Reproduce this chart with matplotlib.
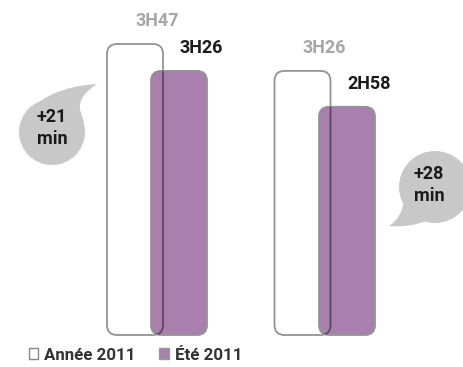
import matplotlib
matplotlib.use('Agg')
import matplotlib.pyplot as plt
from matplotlib.patches import FancyBboxPatch, Ellipse, PathPatch, Patch
from matplotlib.path import Path

# Data (minutes per day)
groups = ['Groupe 1', 'Groupe 2']
annee_2011 = [227, 206]      # 3H47, 3H26
ete_2011 = [206, 178]        # 3H26, 2H58
labels_annee = ['3H47', '3H26']
labels_ete = ['3H26', '2H58']
diffs = ['+21\nmin', '+28\nmin']

plt.rcParams['font.family'] = ['Roboto', 'DejaVu Sans']

W, H = 463, 367
fig = plt.figure(figsize=(W / 100, H / 100), dpi=100)
ax = fig.add_axes([0, 0, 1, 1])
px_per_min = 1.282
base_px = 335
ax.set_xlim(0, W)
ax.set_ylim(-(H - base_px) / px_per_min, base_px / px_per_min)
ax.axis('off')

purple = '#a97fad'
edge_grey = '#939393'
bar_w = 56
centers_annee = [135, 302.5]
centers_ete = [179, 347]
aspect = 1 / px_per_min
label_gap = 14 / px_per_min

for i in range(len(groups)):
    outline = FancyBboxPatch((centers_annee[i] - bar_w / 2, 0), bar_w, annee_2011[i],
                             boxstyle='round,pad=0,rounding_size=10',
                             mutation_aspect=aspect, facecolor='white',
                             edgecolor=edge_grey, lw=1.3, zorder=2)
    ax.add_patch(outline)
    filled = FancyBboxPatch((centers_ete[i] - bar_w / 2, 0), bar_w, ete_2011[i],
                            boxstyle='round,pad=0,rounding_size=10',
                            mutation_aspect=aspect, facecolor=purple,
                            edgecolor=edge_grey, lw=1.3, zorder=3)
    ax.add_patch(filled)
    # outline seen through the purple bar
    through = FancyBboxPatch((centers_annee[i] - bar_w / 2, 0), bar_w, annee_2011[i],
                             boxstyle='round,pad=0,rounding_size=10',
                             mutation_aspect=aspect, facecolor='none',
                             edgecolor='#5c4760', lw=1.3, zorder=4)
    ax.add_patch(through)
    through.set_clip_path(filled)

    ax.text(centers_annee[i] + 22, annee_2011[i] + label_gap, labels_annee[i], ha='center',
            va='bottom', fontsize=13, fontweight='bold', color='#a6a6a6')
    ax.text(centers_ete[i] + 22, ete_2011[i] + label_gap, labels_ete[i], ha='center',
            va='bottom', fontsize=13, fontweight='bold', color='#1a1a1a')

# Speech bubbles, in pixel coordinates
deco = fig.add_axes([0, 0, 1, 1], zorder=5)
deco.set_xlim(0, W)
deco.set_ylim(H, 0)
deco.axis('off')
bubble = '#c8c8c8'

deco.add_patch(Ellipse((52, 132), 66, 66, color=bubble, lw=0))
tail1 = Path([(36, 104), (60, 86), (97, 84), (97, 84), (78, 96), (80, 110), (84, 122), (60, 130), (36, 104)],
             [Path.MOVETO, Path.CURVE3, Path.CURVE3, Path.LINETO, Path.CURVE3, Path.CURVE3,
              Path.LINETO, Path.LINETO, Path.CLOSEPOLY])
deco.add_patch(PathPatch(tail1, color=bubble, lw=0))
deco.text(52, 128, diffs[0], ha='center', va='center', fontsize=13, fontweight='bold',
          color='#1a1a1a', linespacing=1.25)

deco.add_patch(Ellipse((435, 187), 72, 72, color=bubble, lw=0))
tail2 = Path([(428, 220), (410, 228), (389, 226), (389, 226), (402, 218), (404, 200), (430, 190), (428, 220)],
             [Path.MOVETO, Path.CURVE3, Path.CURVE3, Path.LINETO, Path.CURVE3, Path.CURVE3,
              Path.LINETO, Path.CLOSEPOLY])
deco.add_patch(PathPatch(tail2, color=bubble, lw=0))
deco.text(429, 185, diffs[1], ha='center', va='center', fontsize=13, fontweight='bold',
          color='#1a1a1a', linespacing=1.25)

handles = [Patch(facecolor='white', edgecolor='#888888', lw=1.0, label='Année 2011'),
           Patch(facecolor=purple, edgecolor='#999999', lw=1.0, label='Été 2011')]
leg = ax.legend(handles=handles, loc='center left', bbox_to_anchor=(29 / W, 1 - 355 / H), ncol=2,
                frameon=False, handlelength=0.55, handleheight=0.55, handletextpad=0.35,
                columnspacing=1.4, borderpad=0, borderaxespad=0,
                prop={'size': 12.2, 'weight': 'bold'})
for t in leg.get_texts():
    t.set_color('#333333')

fig.savefig('out.png', dpi=100)
